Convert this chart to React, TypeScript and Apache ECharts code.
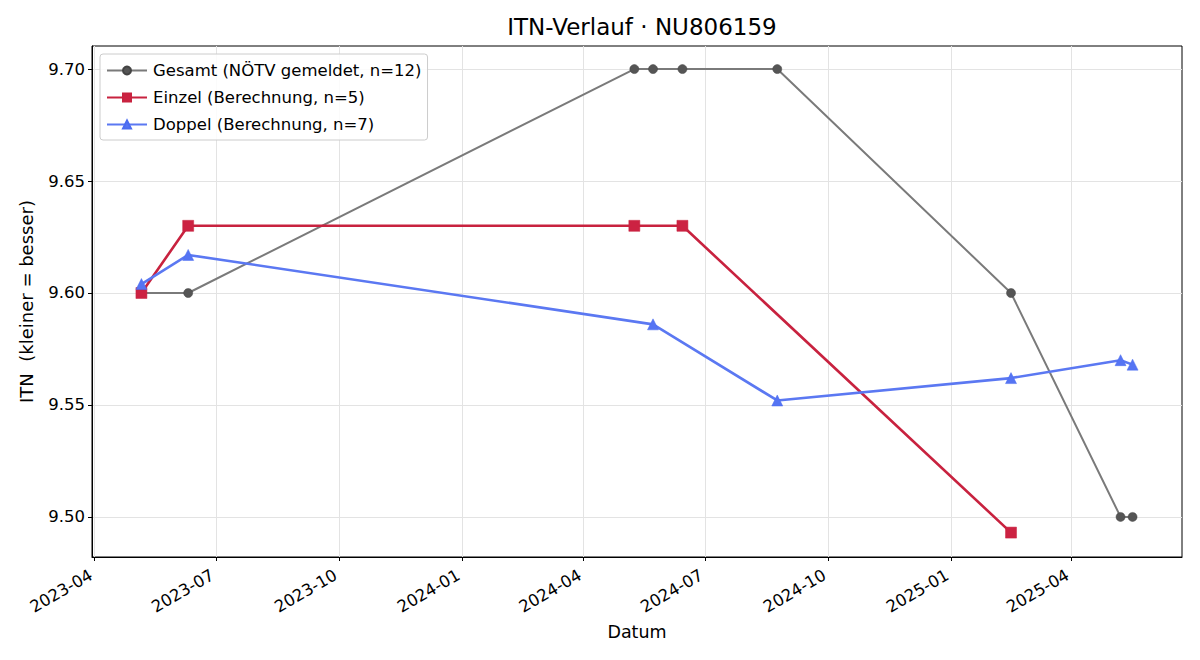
import React, { useEffect, useRef } from "react";
import * as echarts from "echarts";

const dates = [
  "2023-05-06", "2023-06-10", "2024-05-09", "2024-05-23", "2024-06-14",
  "2024-08-24", "2025-02-15", "2025-05-08", "2025-05-17",
];
const gesamtDates = dates;
const gesamtValues = [9.6, 9.6, 9.7, 9.7, 9.7, 9.7, 9.6, 9.5, 9.5];
const einzelDates = ["2023-05-06", "2023-06-10", "2024-05-09", "2024-06-14", "2025-02-15"];
const einzelValues = [9.6, 9.63, 9.63, 9.63, 9.493];
const doppelDates = ["2023-05-06", "2023-06-10", "2024-05-23", "2024-08-24", "2025-02-15", "2025-05-08", "2025-05-17"];
const doppelValues = [9.604, 9.617, 9.586, 9.552, 9.562, 9.57, 9.568];
const xTicks = ["2023-04-01", "2023-07-01", "2023-10-01", "2024-01-01", "2024-04-01", "2024-07-01", "2024-10-01", "2025-01-01", "2025-04-01"];
const yTicks = [9.5, 9.55, 9.6, 9.65, 9.7];
const seriesNames = ["Gesamt (NÖTV gemeldet, n=12)", "Einzel (Berechnung, n=5)", "Doppel (Berechnung, n=7)"];

const ts = (s: string) => {
  const [y, m, d] = s.split("-").map(Number);
  return Date.UTC(y, m - 1, d);
};
const pairs = (ds: string[], vs: number[]) => ds.map((d, i) => [ts(d), vs[i]]);
const FONT = "DejaVu Sans";

export default function App() {
  const ref = useRef<HTMLDivElement>(null);
  useEffect(() => {
    if (!ref.current) return;
    const chart = echarts.init(ref.current, null, { renderer: "svg" });
    chart.setOption({
      animation: false,
      textStyle: { fontFamily: FONT, color: "#000" },
      title: {
        text: "ITN-Verlauf · NU806159",
        left: 637,
        top: 10,
        textAlign: "center",
        textStyle: { fontFamily: FONT, fontSize: 23, fontWeight: "normal", color: "#000" },
      },
      legend: {
        orient: "vertical",
        left: 100,
        top: 54,
        padding: [8, 6, 7, 6],
        itemGap: 10,
        itemWidth: 40,
        itemHeight: 10,
        backgroundColor: "rgba(255,255,255,0.85)",
        borderColor: "#cccccc",
        borderWidth: 1,
        borderRadius: 3,
        textStyle: { fontFamily: FONT, fontSize: 16.5, color: "#000", padding: [0, 0, 0, 1] },
        data: seriesNames,
      },
      grid: { left: 92, right: 18, top: 46, bottom: 103, show: true, borderColor: "#000", borderWidth: 1 },
      xAxis: {
        type: "value",
        min: ts("2023-03-30"),
        max: ts("2025-06-23"),
        name: "Datum",
        nameLocation: "middle",
        nameGap: 66,
        nameTextStyle: { fontFamily: FONT, fontSize: 17.5, color: "#000" },
        axisLine: { show: true, onZero: false, lineStyle: { color: "#000", width: 1 } },
        axisTick: { show: true, length: 4, lineStyle: { color: "#000" }, customValues: xTicks.map(ts) },
        axisLabel: {
          rotate: 30,
          margin: 5,
          align: "right",
          verticalAlign: "top",
          padding: [0, 9, 0, 0],
          fontFamily: FONT,
          fontSize: 16.5,
          color: "#000",
          customValues: xTicks.map(ts),
          formatter: (v: number) => {
            const d = new Date(v);
            return `${d.getUTCFullYear()}-${String(d.getUTCMonth() + 1).padStart(2, "0")}`;
          },
        },
        splitLine: { show: true, lineStyle: { color: "#e3e3e3", width: 1 } },
      },
      yAxis: {
        type: "value",
        min: 9.4821,
        max: 9.7103,
        name: "ITN\u00a0 (kleiner = besser)",
        nameLocation: "middle",
        nameGap: 57,
        nameTextStyle: { fontFamily: FONT, fontSize: 18, color: "#000" },
        axisLine: { show: true, onZero: false, lineStyle: { color: "#000", width: 1 } },
        axisTick: { show: true, length: 4, lineStyle: { color: "#000" }, customValues: yTicks },
        axisLabel: {
          margin: 7,
          fontFamily: FONT,
          fontSize: 16.5,
          color: "#000",
          customValues: yTicks,
          formatter: (v: number) => v.toFixed(2),
        },
        splitLine: { show: true, lineStyle: { color: "#e3e3e3", width: 1 } },
      },
      series: [
        {
          name: seriesNames[0],
          type: "line",
          data: pairs(gesamtDates, gesamtValues),
          symbol: "circle",
          symbolSize: 9,
          lineStyle: { color: "#7a7a7a", width: 2 },
          itemStyle: { color: "#555555", borderColor: "#444444", borderWidth: 0.5 },
          z: 2,
        },
        {
          name: seriesNames[1],
          type: "line",
          data: pairs(einzelDates, einzelValues),
          symbol: "rect",
          symbolSize: 11,
          lineStyle: { color: "#c8223f", width: 2.6 },
          itemStyle: { color: "#cc2242", borderColor: "#c8223f", borderWidth: 0.5 },
          z: 3,
        },
        {
          name: seriesNames[2],
          type: "line",
          data: pairs(doppelDates, doppelValues),
          symbol: "triangle",
          symbolSize: 11,
          lineStyle: { color: "#5b78f2", width: 2.6 },
          itemStyle: { color: "#5574f3", borderColor: "#4b6cf0", borderWidth: 0.5 },
          z: 4,
        },
      ],
    });
    return () => chart.dispose();
  }, []);
  return <div ref={ref} style={{ width: 1200, height: 660, position: "absolute", left: 0, top: 0 }} />;
}
